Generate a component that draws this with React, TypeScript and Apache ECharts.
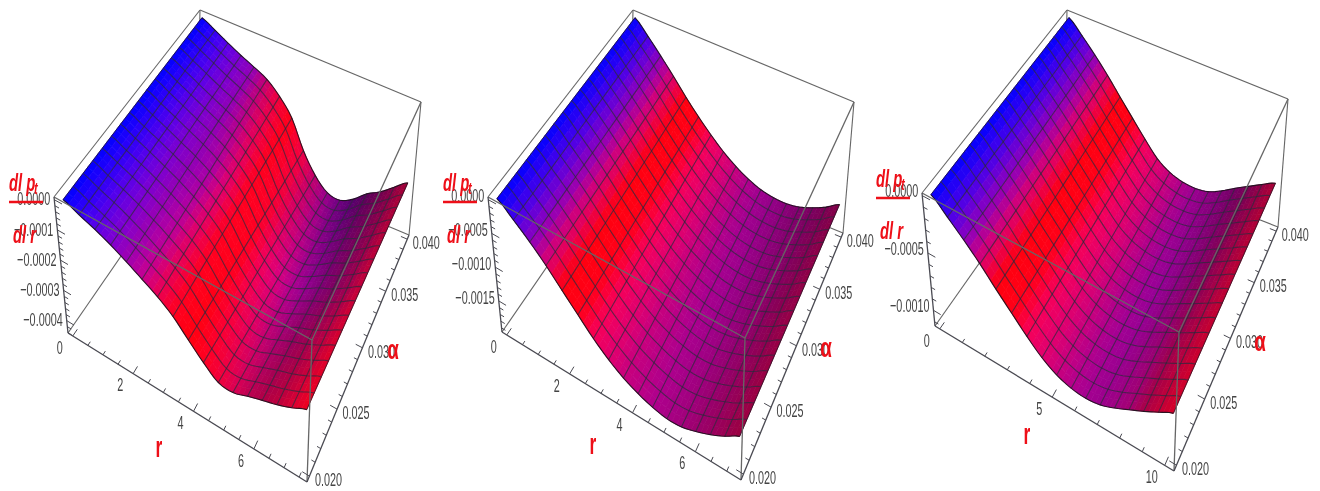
import React, { useEffect, useRef } from "react";
import * as echarts from "echarts";

// ---- values (z in units of 1e-4), 17 mesh rows along r, 3 alpha columns ----
const p1Z02 = [-0.05, -0.27, -0.47, -0.7, -0.97, -1.26, -1.55, -1.91, -2.39, -2.84, -3.2, -3.24, -3.08, -2.93, -2.79, -2.61, -2.39];
const p1Z03 = [-0.02, -0.25, -0.47, -0.7, -0.93, -1.2, -1.53, -1.98, -2.67, -3.22, -3.6, -3.65, -3.46, -3.21, -3.01, -2.75, -2.48];
const p1Z04 = [0, -0.225, -0.47, -0.7, -0.9, -1.125, -1.51, -2.05, -2.95, -3.6, -4.0, -4.07, -3.85, -3.49, -3.24, -2.9, -2.57];

const p2Z02 = [-0.08, -2.0, -4.0, -6.2, -8.6, -10.9, -13.1, -14.9, -16.3, -17.3, -18.0, -18.4, -18.3, -17.7, -16.9, -15.9, -14.7];
const p2Z03 = [-0.04, -1.95, -4.0, -6.2, -8.55, -10.75, -12.8, -14.55, -15.95, -17.0, -17.75, -18.15, -18.15, -17.7, -16.95, -16.0, -14.8];
const p2Z04 = [0, -1.9, -4.0, -6.2, -8.5, -10.6, -12.5, -14.2, -15.6, -16.7, -17.5, -17.9, -18.0, -17.7, -17.0, -16.1, -14.9];

const p3Z02 = [-0.05, -1.28, -2.55, -3.89, -5.34, -6.67, -7.95, -9.05, -9.8, -10.2, -10.32, -10.15, -9.69, -9.11, -8.53, -7.89, -7.27];
const p3Z03 = [-0.02, -1.19, -2.43, -3.77, -5.22, -6.58, -7.92, -9.1, -9.86, -10.26, -10.38, -10.21, -9.72, -9.08, -8.47, -7.83, -7.23];
const p3Z04 = [0, -1.1, -2.32, -3.65, -5.1, -6.5, -7.89, -9.16, -9.92, -10.32, -10.44, -10.27, -9.74, -9.05, -8.41, -7.77, -7.19];

// ---- surface colours per mesh row ----
const p1C02 = ["#0000ff", "#3000f8", "#5a00e8", "#8000d0", "#a000b0", "#c80090", "#eb0050", "#ff0020", "#ff0010", "#ff0020", "#f0003c", "#dc0050", "#be0050", "#af0046", "#be003c", "#dc0032", "#f0001e"];
const p1C03 = ["#0000ff", "#3000f8", "#5a00e8", "#7c00d0", "#8f00b8", "#a800a8", "#e00070", "#ff0020", "#ff0020", "#f00060", "#d80080", "#b00090", "#950090", "#800078", "#800060", "#a00050", "#c80038"];
const p1C04 = ["#0000ff", "#3000f8", "#5a00e8", "#7c00d0", "#9000b8", "#c8006e", "#f0003c", "#ff0018", "#f00046", "#be006e", "#96008c", "#6e0082", "#55006e", "#5a005a", "#6e0050", "#870046", "#a50037"];

const p2C02 = ["#0000ff", "#4600eb", "#8c00be", "#dc006e", "#ff0010", "#ff0018", "#f5005a", "#e1006e", "#c8007d", "#bc0084", "#b0008c", "#a80084", "#a2007a", "#9c006c", "#9a0060", "#9a0050", "#9c0040"];
const p2C03 = ["#0000ff", "#4600eb", "#8c00be", "#dc006e", "#ff0010", "#ff0018", "#f5005a", "#e1006e", "#c8007d", "#b5008a", "#a80090", "#9f008c", "#960080", "#8e0072", "#8a0060", "#8a0050", "#980046"];
const p2C04 = ["#0000ff", "#4600eb", "#8c00be", "#dc006e", "#ff0010", "#ff0018", "#f5005a", "#e1006e", "#c8007d", "#b0008c", "#a00090", "#940088", "#8a007a", "#80006c", "#7a0060", "#7a0054", "#820048"];

const p3C02 = ["#0000ff", "#4600eb", "#8c00be", "#dc006e", "#ff0010", "#ff0018", "#f5005a", "#e1006e", "#c8007d", "#b4008c", "#a50091", "#9b008c", "#a00082", "#a50073", "#aa0046", "#c30037", "#d70028"];
const p3C03 = ["#0000ff", "#4600eb", "#8c00be", "#dc006e", "#ff0010", "#ff0018", "#f5005a", "#e1006e", "#c8007d", "#af008c", "#a00096", "#960096", "#8c0082", "#8c006e", "#8c0055", "#aa0046", "#be0032"];
const p3C04 = ["#0000ff", "#4600eb", "#8c00be", "#dc006e", "#ff0010", "#ff0018", "#f5005a", "#e1006e", "#c8007d", "#af008c", "#9b0091", "#8c0082", "#820078", "#730064", "#780055", "#910046", "#aa0037"];

// ---- tick labels ----
const p1ZTicks = ["0.0000", "−0.0001", "−0.0002", "−0.0003", "−0.0004"];
const p1ZVals = [0, -1, -2, -3, -4];
const p2ZTicks = ["0.0000", "−0.0005", "−0.0010", "−0.0015"];
const p2ZVals = [0, -5, -10, -15];
const p3ZTicks = ["0.0000", "−0.0005", "−0.0010"];
const p3ZVals = [0, -5, -10];
const p1RTicks = [0, 2, 4, 6];
const p2RTicks = [0, 2, 4, 6];
const p3RTicks = [0, 5, 10];
const alphaTicks = ["0.020", "0.025", "0.030", "0.035", "0.040"];
const alphaVals = [0.02, 0.025, 0.03, 0.035, 0.04];

type Pt = [number, number];
type Panel = {
  left: Pt; top: Pt; right: Pt; front: Pt; bl: Pt; bf: Pt; rb: Pt; bb: Pt;
  zCols: number[][]; cCols: string[][];
  R: number; rMax: number; rMinor: number; zMinor: number;
  zLabels: string[]; zVals: number[]; rVals: number[];
  zLabelDy: number; rLabelOff: Pt; aLabelOff: Pt;
  title: Pt; rPos: Pt; aPos: Pt;
};

const panels: Panel[] = [
  {
    left: [54, 197], top: [200, 10], right: [421, 102], front: [312, 340],
    bl: [68, 333], bf: [307, 482], rb: [409, 235], bb: [197, 146],
    zCols: [p1Z02, p1Z03, p1Z04], cCols: [p1C02, p1C03, p1C04],
    R: 4.5, rMax: 7.6, rMinor: 0.5, zMinor: 0.2,
    zLabels: p1ZTicks, zVals: p1ZVals, rVals: p1RTicks,
    zLabelDy: -1, rLabelOff: [-13, 11], aLabelOff: [19, 3],
    title: [9, 0], rPos: [159, 447], aPos: [393, 350],
  },
  {
    left: [488, 197], top: [633, 10], right: [854, 102], front: [745, 338],
    bl: [502, 332], bf: [741, 480], rb: [843, 233], bb: [630, 146],
    zCols: [p2Z02, p2Z03, p2Z04], cCols: [p2C02, p2C03, p2C04],
    R: 20, rMax: 7.3, rMinor: 0.5, zMinor: 1,
    zLabels: p2ZTicks, zVals: p2ZVals, rVals: p2RTicks,
    zLabelDy: -4, rLabelOff: [-13, 11], aLabelOff: [19, 3],
    title: [443, 0], rPos: [593, 444], aPos: [826, 348],
  },
  {
    left: [922, 193], top: [1067, 10], right: [1288, 99], front: [1179, 332],
    bl: [935, 326], bf: [1174, 471], rb: [1278, 227], bb: [1064, 143],
    zCols: [p3Z02, p3Z03, p3Z04], cCols: [p3C02, p3C03, p3C04],
    R: 11.6, rMax: 10.2, rMinor: 1, zMinor: 1,
    zLabels: p3ZTicks, zVals: p3ZVals, rVals: p3RTicks,
    zLabelDy: -5, rLabelOff: [-13, 11], aLabelOff: [19, 3],
    title: [876, -4], rPos: [1027, 434], aPos: [1260, 342],
  },
];

const PAD = 0.02;
const D0 = 0.02;
const DEPTH = 0.84; // foreshortening towards the far side of the alpha axis
const mix = (a: number, b: number, t: number) => a + (b - a) * t;
const mixP = (a: Pt, b: Pt, t: number): Pt => [mix(a[0], b[0], t), mix(a[1], b[1], t)];

// projects box fractions: u along r, v along alpha, d downwards from the top face
function project(p: Panel, u: number, vRaw: number, d: number): Pt {
  const v = vRaw / (vRaw + DEPTH * (1 - vRaw));
  const topFace = mixP(mixP(p.left, p.top, v), mixP(p.front, p.right, v), u);
  const botFace = mixP(mixP(p.bl, p.bb, v), mixP(p.bf, p.rb, v), u);
  return mixP(topFace, botFace, d);
}
const uOf = (p: Panel, r: number) => PAD + (1 - 2 * PAD) * (r / p.rMax);
const vOf = (a: number) => PAD + (1 - 2 * PAD) * ((a - 0.02) / 0.02);
const dOf = (p: Panel, z: number) => D0 - z / p.R;

// smooth curve through the mesh rows of one alpha column, for drawing between rows
function rowCurve(col: number[], ri: number) {
  const i = Math.min(Math.floor(ri), 15);
  const t = ri - i;
  const a = col[Math.max(i - 1, 0)], b = col[i], c = col[i + 1], e = col[Math.min(i + 2, 16)];
  return 0.5 * (2 * b + (c - a) * t + (2 * a - 5 * b + 4 * c - e) * t * t + (3 * b - a - 3 * c + e) * t * t * t);
}
function sampleZ(p: Panel, ri: number, ai: number) {
  const j = Math.min(Math.floor(ai), 1);
  return mix(rowCurve(p.zCols[j], ri), rowCurve(p.zCols[j + 1], ri), ai - j);
}
function hex(c: string) {
  return [parseInt(c.slice(1, 3), 16), parseInt(c.slice(3, 5), 16), parseInt(c.slice(5, 7), 16)];
}
function sampleC(p: Panel, ri: number, ai: number) {
  const i = Math.min(Math.floor(ri), 15);
  const j = Math.min(Math.floor(ai), 1);
  const fr = ri - i, fa = ai - j;
  const c00 = hex(p.cCols[j][i]), c01 = hex(p.cCols[j][i + 1]);
  const c10 = hex(p.cCols[j + 1][i]), c11 = hex(p.cCols[j + 1][i + 1]);
  const out = [0, 1, 2].map((k) =>
    Math.round(mix(mix(c00[k], c01[k], fr), mix(c10[k], c11[k], fr), fa))
  );
  return `rgb(${out[0]},${out[1]},${out[2]})`;
}
function surfPoint(p: Panel, ri: number, aj: number): Pt {
  const u = PAD + (1 - 2 * PAD) * (ri / 16);
  const v = PAD + (1 - 2 * PAD) * (aj / 16);
  return project(p, u, v, dOf(p, sampleZ(p, ri, aj / 8)));
}

type Shape =
  | { k: "poly"; pts: Pt[]; fill: string }
  | { k: "line"; pts: Pt[]; stroke: string; w: number }
  | { k: "text"; at: Pt; text: string; font: string; fill: string; sx: number; align: string };

const AXIS = "#4a4a52";
const BOX = "#666666";
const LABEL = "#444444";
const RED = "#ee0f18";
const TICK_FONT = "19px 'Liberation Sans'";
const TITLE_FONT = "italic bold 24px 'Liberation Sans'";

function buildShapes(p: Panel): Shape[] {
  const s: Shape[] = [];
  const line = (a: Pt, b: Pt, stroke: string, w: number) => s.push({ k: "line", pts: [a, b], stroke, w });
  // back lines
  line(p.left, p.top, BOX, 1.1);
  line(p.top, p.right, BOX, 1.1);
  line(p.right, p.rb, BOX, 1.1);
  line(p.top, p.bb, BOX, 1.1);
  line(p.bl, p.bb, BOX, 1.1);
  line(p.bb, p.rb, BOX, 1.1);
  // surface
  const RS = 3, AS = 2;
  for (let j = 16 * AS - 1; j >= 0; j--) {
    for (let i = 0; i < 16 * RS; i++) {
      const r0 = i / RS, r1 = (i + 1) / RS, a0 = j / AS, a1 = (j + 1) / AS;
      s.push({
        k: "poly",
        pts: [surfPoint(p, r0, a0), surfPoint(p, r1, a0), surfPoint(p, r1, a1), surfPoint(p, r0, a1)],
        fill: sampleC(p, (r0 + r1) / 2, (a0 + a1) / 16),
      });
    }
  }
  // mesh
  const MESH = "rgba(45,40,60,0.72)";
  const EDGE = "rgba(25,15,25,0.9)";
  for (let i = 0; i <= 16; i++) {
    const pts: Pt[] = [];
    for (let j = 0; j <= 16; j++) pts.push(surfPoint(p, i, j));
    s.push({ k: "line", pts, stroke: i === 0 || i === 16 ? EDGE : MESH, w: i === 0 || i === 16 ? 0.8 : 1.1 });
  }
  for (let j = 0; j <= 16; j++) {
    const pts: Pt[] = [];
    for (let q = 0; q <= 64; q++) pts.push(surfPoint(p, q / 4, j));
    s.push({ k: "line", pts, stroke: j === 0 || j === 16 ? EDGE : MESH, w: 1.1 });
  }
  // front lines of the box
  line(p.left, p.front, BOX, 1.3);
  line(p.front, p.right, BOX, 1.3);
  line(p.front, p.bf, BOX, 1.3);
  // axes
  line(p.left, p.bl, AXIS, 1.3);
  line(p.bl, p.bf, AXIS, 1.3);
  line(p.bf, p.rb, AXIS, 1.3);
  // r ticks
  for (let r = 0; r <= p.rMax; r += p.rMinor) {
    const major = p.rVals.includes(r);
    const u = uOf(p, r);
    line(project(p, u, 0, 1), project(p, u, major ? 0.03 : 0.016, 1), AXIS, 1);
  }
  // alpha ticks
  for (let m = 20; m <= 40; m += 1) {
    const v = vOf(m / 1000);
    const major = m % 5 === 0;
    line(project(p, 1, v, 1), project(p, major ? 0.97 : 0.984, v, 1), AXIS, 1);
  }
  // z ticks
  const lowest = (D0 - 1) * p.R;
  for (let q = 0; q >= lowest; q = +(q - p.zMinor).toFixed(3)) {
    const major = p.zVals.includes(q);
    const d = dOf(p, q);
    line(project(p, 0, 0, d), project(p, major ? 0.03 : 0.016, 0, d), AXIS, 1);
  }
  // tick labels
  p.zVals.forEach((z, i) => {
    const a = project(p, 0, 0, dOf(p, z));
    s.push({ k: "text", at: [a[0] - 4, a[1] + p.zLabelDy], text: p.zLabels[i], font: TICK_FONT, fill: LABEL, sx: 0.57, align: "right" });
  });
  p.rVals.forEach((r) => {
    const a = project(p, uOf(p, r), 0, 1);
    s.push({ k: "text", at: [a[0] + p.rLabelOff[0], a[1] + p.rLabelOff[1]], text: String(r), font: TICK_FONT, fill: LABEL, sx: 0.57, align: "center" });
  });
  alphaVals.forEach((al, i) => {
    const a = project(p, 1, vOf(al), 1);
    s.push({ k: "text", at: [a[0] + p.aLabelOff[0], a[1] + p.aLabelOff[1]], text: alphaTicks[i], font: TICK_FONT, fill: LABEL, sx: 0.57, align: "center" });
  });
  // axis titles
  const [tx, dy] = p.title;
  s.push({ k: "text", at: [tx, 183 + dy], text: "dl p", font: TITLE_FONT, fill: RED, sx: 0.62, align: "left" });
  s.push({ k: "text", at: [tx + 25, 188 + dy], text: "t", font: "italic bold 16px 'Liberation Sans'", fill: RED, sx: 0.7, align: "left" });
  s.push({ k: "line", pts: [[tx, 202 + dy], [tx + 34, 202 + dy]], stroke: RED, w: 2.6 });
  s.push({ k: "text", at: [tx + 4, 235 + dy], text: "dl r", font: TITLE_FONT, fill: RED, sx: 0.62, align: "left" });
  s.push({ k: "text", at: p.rPos, text: "r", font: "bold 30px 'Liberation Sans'", fill: RED, sx: 0.58, align: "center" });
  s.push({ k: "text", at: p.aPos, text: "α", font: "bold 27px 'Liberation Sans'", fill: RED, sx: 0.7, align: "center" });
  return s;
}

function seriesFor(p: Panel) {
  const shapes = buildShapes(p);
  return {
    type: "custom",
    coordinateSystem: "cartesian2d",
    silent: true,
    clip: false,
    progressive: 0,
    data: shapes.map((_, i) => [i, 0]),
    renderItem: (params: any, api: any) => {
      const sh = shapes[params.dataIndex];
      if (sh.k === "poly") {
        return {
          type: "polygon",
          shape: { points: sh.pts.map((q) => api.coord(q)) },
          style: { fill: sh.fill, stroke: sh.fill, lineWidth: 0.7 },
          silent: true,
        };
      }
      if (sh.k === "line") {
        return {
          type: "polyline",
          shape: { points: sh.pts.map((q) => api.coord(q)) },
          style: { stroke: sh.stroke, lineWidth: sh.w, fill: null },
          silent: true,
        };
      }
      const c = api.coord(sh.at);
      return {
        type: "text",
        x: c[0],
        y: c[1],
        scaleX: sh.sx,
        style: { text: sh.text, font: sh.font, fill: sh.fill, align: sh.align, verticalAlign: "middle" },
        silent: true,
      };
    },
  };
}

export default function App() {
  const ref = useRef<HTMLDivElement>(null);
  useEffect(() => {
    document.body.style.margin = "0";
    const chart = echarts.init(ref.current!, undefined, { renderer: "svg" });
    chart.setOption({
      animation: false,
      backgroundColor: "#ffffff",
      grid: { left: 0, right: 0, top: 0, bottom: 0 },
      xAxis: { type: "value", min: 0, max: 1320, show: false },
      yAxis: { type: "value", min: 0, max: 491, inverse: true, show: false },
      tooltip: { show: false },
      series: panels.map(seriesFor),
    });
    return () => chart.dispose();
  }, []);
  return <div ref={ref} style={{ width: 1320, height: 491, filter: "blur(0.5px)" }} />;
}
